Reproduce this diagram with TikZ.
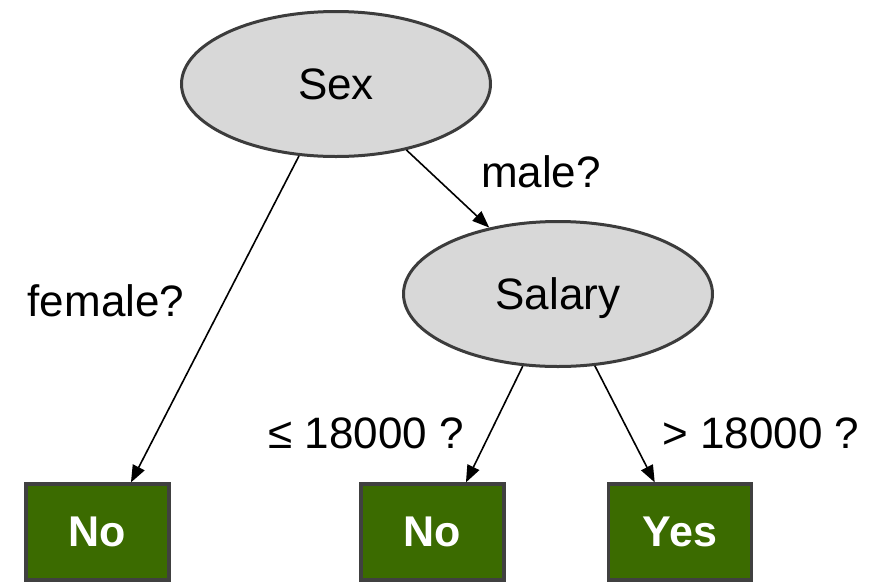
\documentclass[tikz,border=0pt]{standalone}
\usepackage{fontspec}
\setmainfont{Liberation Sans}
\usetikzlibrary{shapes.geometric,arrows.meta}
\definecolor{leafgreen}{RGB}{59,107,0}
\definecolor{leafedge}{RGB}{64,64,64}
\definecolor{testfill}{RGB}{216,216,216}
\definecolor{testedge}{RGB}{60,60,60}
\tikzset{
  test/.style={ellipse, draw=testedge, fill=testfill, line width=3pt,
    minimum width=309pt, minimum height=145pt, inner sep=0pt,
    text depth=0pt, font=\fontsize{44}{50}\selectfont},
  leaf/.style={rectangle, draw=leafedge, fill=leafgreen, line width=3.2pt,
    minimum width=143pt, minimum height=96pt, inner sep=0pt, text=white,
    text depth=0pt, font=\fontsize{43}{50}\selectfont\bfseries},
  cond/.style={inner sep=0pt, font=\fontsize{44}{50}\selectfont},
  edge/.style={line width=1.6pt, -{Triangle[length=17pt,width=13pt]}}
}
\begin{document}
\begin{tikzpicture}[x=1pt,y=-1pt]
  \useasboundingbox (0,0) rectangle (887,582);
  % decision nodes
  \node[test] (sex) at (336,84) {Sex};
  \node[test] (salary) at (558,294) {Salary};
  % leaves
  \node[leaf] (no1) at (97.5,532) {No};
  \node[leaf] (no2) at (432.5,532) {No};
  \node[leaf] (yes) at (680,532) {Yes};
  % branches
  \draw[edge] (sex) -- (no1.56);
  \draw[edge] (sex) -- (salary.136);
  \draw[edge] (salary) -- (no2.56);
  \draw[edge] (salary) -- (yes.117);
  % branch conditions
  \node[cond] (lmale) at (541,172) {male?};
  \node[cond] (lfemale) at (106,301) {female?};
  \node[cond] (lle) at (366,433) {≤ 18000 ?};
  \node[cond] (lgt) at (761,433) {> 18000 ?};
\end{tikzpicture}
\end{document}
